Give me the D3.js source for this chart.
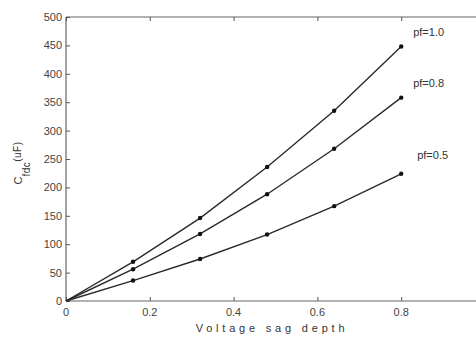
<!DOCTYPE html>
<html>
<head>
<meta charset="utf-8">
<script src="https://cdn.jsdelivr.net/npm/d3@7"></script>
<style>
  body { margin: 0; background: #fff; }
  svg { display: block; }
</style>
</head>
<body>
<div id="chart"></div>
<script>
const sagDepth = [0, 0.16, 0.32, 0.48, 0.64, 0.8];
const pf10 = [0, 69, 146, 236, 335, 448];
const pf08 = [0, 56, 118, 188, 268, 358];
const pf05 = [0, 36, 74, 117, 167, 224];
const seriesNames = ['pf=1.0', 'pf=0.8', 'pf=0.5'];
const xTicks = [0, 0.2, 0.4, 0.6, 0.8];
const yTicks = [0, 50, 100, 150, 200, 250, 300, 350, 400, 450, 500];

const width = 476, height = 338;
const margin = { left: 66, top: 17, right: -9, bottom: 37 };
const series = [pf10, pf08, pf05];

const svg = d3.select('#chart').append('svg')
    .attr('width', width).attr('height', height);

const x = d3.scaleLinear().domain([0, 1]).range([margin.left, width - margin.right]);
const y = d3.scaleLinear().domain([0, 500]).range([height - margin.bottom, margin.top]);

const ink = '#2a2a2a';
const font = "'Liberation Sans', Arial, sans-serif";

// frame
svg.append('line').attr('x1', x(0)).attr('x2', x(1)).attr('y1', y(0)).attr('y2', y(0))
    .attr('stroke', '#666').attr('stroke-width', 1.2);
svg.append('line').attr('x1', x(0)).attr('x2', x(1)).attr('y1', y(500)).attr('y2', y(500))
    .attr('stroke', '#666').attr('stroke-width', 1.2);
svg.append('line').attr('x1', x(0)).attr('x2', x(0)).attr('y1', y(0)).attr('y2', y(500))
    .attr('stroke', '#666').attr('stroke-width', 1.2);

// axes with inward ticks
const xAxis = svg.append('g').attr('transform', `translate(0,${y(0)})`)
    .call(d3.axisTop(x).tickValues(xTicks).tickSize(4).tickFormat(''));
xAxis.select('.domain').remove();
const xTop = svg.append('g').attr('transform', `translate(0,${y(500)})`)
    .call(d3.axisBottom(x).tickValues(xTicks).tickSize(4).tickFormat(''));
xTop.select('.domain').remove();
const yAxis = svg.append('g').attr('transform', `translate(${x(0)},0)`)
    .call(d3.axisRight(y).tickValues(yTicks).tickSize(4).tickFormat(''));
yAxis.select('.domain').remove();
svg.selectAll('.tick line').attr('stroke', '#555');

svg.append('g').selectAll('text').data(xTicks).enter().append('text')
    .attr('x', d => x(d)).attr('y', y(0) + 15)
    .attr('text-anchor', 'middle')
    .attr('font-family', font).attr('font-size', 11).attr('fill', '#444')
    .text(d => d === 0 ? '0' : d3.format('.1f')(d));

svg.append('g').selectAll('text').data(yTicks).enter().append('text')
    .attr('x', x(0) - 4).attr('y', d => y(d) + 4)
    .attr('text-anchor', 'end')
    .attr('font-family', font).attr('font-size', 11).attr('fill', '#444')
    .text(d => d);

// lines
const line = d3.line().x((d, i) => x(sagDepth[i])).y(d => y(d));
series.forEach((s, k) => {
    svg.append('path').datum(s)
        .attr('d', line)
        .attr('fill', 'none').attr('stroke', ink).attr('stroke-width', 1.4);
    svg.append('g').selectAll('circle').data(s.slice(1)).enter().append('circle')
        .attr('cx', (d, i) => x(sagDepth[i + 1])).attr('cy', d => y(d))
        .attr('r', 2.2).attr('fill', '#111');
    const last = s[s.length - 1];
    svg.append('text')
        .attr('x', x(sagDepth[sagDepth.length - 1]) + (k === 2 ? 16 : 12))
        .attr('y', y(last) - (k === 2 ? 15 : 11))
        .attr('font-family', font).attr('font-size', 11).attr('fill', '#333')
        .text(seriesNames[k]);
});

// axis titles
svg.append('text')
    .attr('x', 272).attr('y', 332)
    .attr('text-anchor', 'middle')
    .attr('font-family', font).attr('font-size', 11).attr('fill', '#333')
    .attr('letter-spacing', '3.8px')
    .text('Voltage sag depth');

const yl = svg.append('text')
    .attr('transform', `translate(22,163) rotate(-90)`)
    .attr('text-anchor', 'middle')
    .attr('font-family', font).attr('font-size', 11).attr('fill', '#333');
yl.append('tspan').text('C');
yl.append('tspan').attr('dy', 8).attr('font-size', 10).attr('letter-spacing', '0.5px').text('fdc');
yl.append('tspan').attr('dy', -9).attr('font-size', 10).attr('letter-spacing', '0.5px').text('(uF)');
</script>
</body>
</html>
